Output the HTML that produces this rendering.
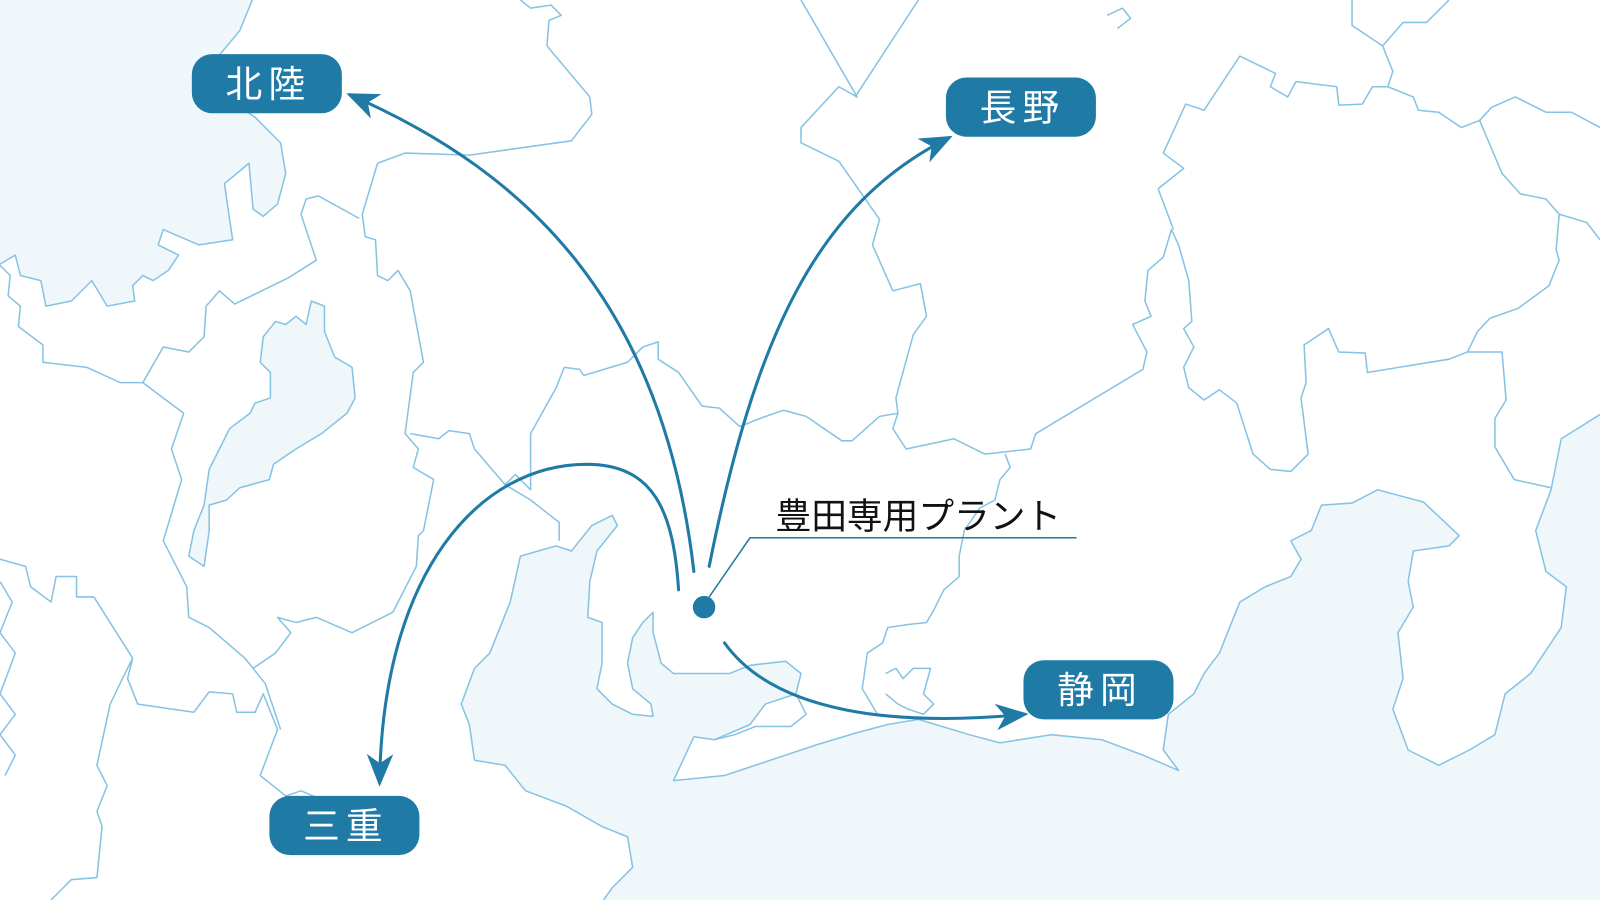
<!DOCTYPE html>
<html><head><meta charset="utf-8"><style>
html,body{margin:0;padding:0;background:#fff;}
svg{display:block;}
text{font-family:"Liberation Sans","Noto Sans CJK JP",sans-serif;}
</style></head><body>
<svg width="1600" height="900" viewBox="0 0 1568 882" preserveAspectRatio="none" xmlns="http://www.w3.org/2000/svg">
<defs>
<marker id="ah" viewBox="0 0 32 26" refX="28" refY="13" markerWidth="32" markerHeight="26" markerUnits="userSpaceOnUse" orient="auto">
<path d="M0,0 L32,13 L0,26 L9,13 Z" fill="#1f7aa6"/>
</marker>
</defs>
<rect width="1568" height="882" fill="#fff"/>
<g fill="#eff7fb" stroke="#86c3e3" stroke-width="1.5" stroke-linejoin="round">
<path d="M-2,-2 L248,-2 L235,30 L220,48 L210,60 L200,80 L250,115 L275,140 L280,170 L272,200 L258,212 L248,205 L244,160 L220,180 L225,215 L228,235 L195,240 L160,225 L155,240 L175,250 L165,265 L150,275 L140,270 L130,280 L132,295 L105,300 L90,275 L70,295 L45,300 L40,275 L20,270 L15,250 L-2,260 Z"/>
<path d="M305,295 L318,300 L318,325 L328,350 L345,360 L348,390 L340,405 L315,425 L290,440 L268,455 L264,470 L235,478 L222,490 L205,495 L205,520 L200,555 L185,545 L190,520 L200,495 L205,460 L215,440 L225,420 L245,405 L250,395 L265,390 L265,365 L255,355 L258,330 L270,315 L280,318 L290,310 L300,318 Z"/>
<path d="M500,590 L510,545 L545,535 L560,540 L580,515 L600,505 L605,515 L585,540 L578,570 L576,605 L590,610 L590,650 L585,675 L600,690 L620,700 L640,702 L638,690 L620,675 L615,650 L620,625 L630,610 L640,600 L640,620 L648,650 L660,660 L715,660 L735,652 L770,648 L785,660 L780,680 L750,690 L735,710 L700,725 L680,722 L660,765 L710,760 L800,730 L840,718 L870,710 L900,705 L950,720 L980,728 L1030,720 L1080,725 L1120,740 L1155,755 L1140,735 L1145,700 L1170,680 L1180,660 L1195,640 L1215,590 L1240,575 L1265,565 L1275,548 L1265,530 L1285,520 L1295,495 L1325,493 L1350,480 L1395,492 L1430,525 L1420,535 L1385,540 L1380,570 L1385,595 L1370,620 L1375,665 L1365,695 L1380,735 L1410,750 L1440,735 L1465,720 L1475,680 L1500,660 L1530,615 L1535,575 L1515,560 L1505,520 L1520,480 L1530,430 L1570,405 L1570,884 L590,884 L600,870 L620,850 L615,820 L590,810 L555,790 L515,775 L495,750 L465,745 L460,710 L452,690 L465,655 L480,640 L490,615 Z"/>
</g>
<g fill="none" stroke="#86c3e3" stroke-width="1.5" stroke-linejoin="round">
<polyline points="510,0 520,8 540,5 550,15 538,20 536,45 578,95 580,112 560,138 460,152 397,150 370,160 355,210 358,232 368,235 370,270 380,275 390,265 402,285 415,355 405,365 397,425 410,440 405,458 425,470 415,520 410,525 408,555 385,600 345,620 310,605 290,610 272,605 285,620 270,640 248,655 240,645 205,615 185,605 183,575 160,530 178,470 168,440 180,405 160,390 140,375 160,340 185,345 200,330 202,300 215,285 230,298 283,272 310,255 295,210 300,195 312,192 352,214"/>
<polyline points="0,548 25,555 30,575 50,590 55,565 75,565 75,585 92,585 130,645 125,665 135,690 190,698 205,678 228,680 232,698 250,698 258,680 272,715 255,760 280,780 295,775 330,790"/>
<polyline points="130,645 120,665 108,690 95,750 105,770 95,795 100,810 95,860 70,862 50,882"/>
<polyline points="0,570 12,590 0,620 15,640 0,680 15,700 0,720 15,740 5,760"/>
<polyline points="248,655 260,670 275,715"/>
<polyline points="0,260 10,270 8,290 20,300 18,320 42,338 42,355 85,360 118,375 140,375"/>
<polyline points="402,425 430,430 440,422 460,425 465,440 495,475 505,465 520,480 520,425 545,380 553,360 568,362 572,368 615,355 630,340 645,335 645,352 665,365 688,398 705,400 725,418 745,410 768,402 790,408 825,432 835,432 862,408 880,405 875,420 888,440 935,430 965,445 1010,440 1015,425 1120,362 1124,345 1110,318 1128,310 1122,295 1125,265 1140,252 1148,225 1155,240 1165,275 1168,315 1160,322 1170,340 1160,360 1165,380 1180,392 1195,382 1212,395 1228,445 1245,460 1265,462 1282,445 1275,390 1280,375 1278,338 1302,322 1312,345 1338,346 1340,365 1420,352 1438,345 1472,345 1476,392 1465,410 1465,438 1484,470 1520,478"/>
<polyline points="495,475 520,490 548,512 548,530"/>
<polyline points="785,0 840,95 822,85 785,125 785,140 822,158 862,215 855,240 875,285 902,278 908,310 895,328 878,390 880,405"/>
<polyline points="900,0 838,95"/>
<polyline points="985,445 990,458 980,470 975,490 960,498 945,520 940,545 940,565 925,578 915,598 908,610 890,612 870,615 865,630 850,640 845,675 860,700"/>
<polyline points="1135,185 1160,165 1140,150 1162,102 1180,108 1215,55 1250,72 1245,85 1262,95 1270,80 1310,85 1312,103 1335,102 1345,85 1360,85 1385,95 1390,108 1410,110 1432,125 1450,118 1462,105 1485,95 1515,110 1540,110 1568,125"/>
<polyline points="1135,185 1150,225"/>
<polyline points="1450,118 1472,170 1490,190 1515,195 1528,210 1525,245 1528,255 1518,280 1488,302 1460,312 1448,325 1438,345"/>
<polyline points="1528,210 1555,218 1568,235"/>
<polyline points="1325,0 1325,25 1355,45 1365,70 1360,85"/>
<polyline points="1355,45 1375,22 1398,22 1420,0"/>
<polyline points="1085,15 1100,8 1108,18 1095,28 Z"/>
<polyline points="868,660 878,655 885,665 895,655 912,655 905,680 915,690 905,700 890,695 880,690 868,680 Z"/>
<polyline points="780,680 790,700 775,712 740,712 720,720 700,725"/>
</g>
<g fill="none" stroke="#1f7aa6" stroke-width="3" stroke-linecap="round">
<path d="M680,560 C650,300 520,170 343,93" marker-end="url(#ah)"/>
<path d="M695,555 C740,330 800,200 930,135" marker-end="url(#ah)"/>
<path d="M665,578 C660,500 640,455 575,455 C470,455 375,560 372,767" marker-end="url(#ah)"/>
<path d="M710,630 C760,700 880,712 1004,700" marker-end="url(#ah)"/>
</g>
<circle cx="690" cy="595" r="11" fill="#1f7aa6"/>
<polyline points="695,585 735,527 1055,527" fill="none" stroke="#1f7aa6" stroke-width="1.5"/>
<text x="760" y="518" font-size="35" fill="#111">豊田専用プラント</text>
<g fill="#1f7aa6">
<rect x="188" y="53" width="147" height="58" rx="20"/>
<rect x="927" y="76" width="147" height="58" rx="20"/>
<rect x="1003" y="647" width="147" height="58" rx="20"/>
<rect x="264" y="780" width="147" height="58" rx="20"/>
</g>
<g fill="#fff" font-size="36" text-anchor="middle" letter-spacing="6">
<text x="263" y="95">北陸</text>
<text x="1002" y="118">長野</text>
<text x="1078" y="689">静岡</text>
<text x="339" y="822">三重</text>
</g>
</svg>
</body></html>
